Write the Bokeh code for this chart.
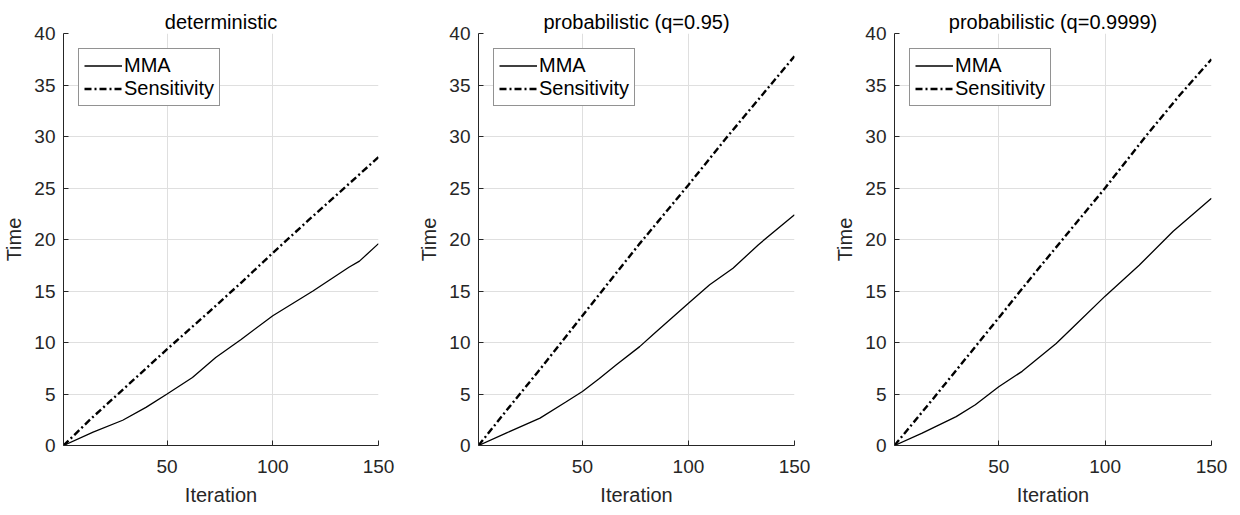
from bokeh.plotting import figure
from bokeh.layouts import row
from bokeh.models import FixedTicker, Range1d, Legend, LegendItem
from bokeh.embed import file_html
from bokeh.resources import INLINE

titles = ["deterministic", "probabilistic (q=0.95)", "probabilistic (q=0.9999)"]

mma1_x = [1, 15, 29, 40, 50, 62, 73, 85, 100, 119, 136, 141, 150]
mma1_y = [0, 1.3, 2.45, 3.7, 5.0, 6.6, 8.55, 10.3, 12.6, 15.0, 17.3, 17.9, 19.6]
sen1_x = [1, 14, 30, 50, 70, 85, 100, 117, 136, 150]
sen1_y = [0, 2.6, 5.6, 9.35, 13.0, 15.8, 18.7, 21.9, 25.4, 28.0]

mma2_x = [1, 14, 30, 42, 50, 58, 66, 77, 84, 100, 110, 121, 133, 150]
mma2_y = [0, 1.2, 2.66, 4.2, 5.25, 6.5, 7.84, 9.6, 10.9, 13.8, 15.6, 17.2, 19.5, 22.4]
sen2_x = [1, 14, 30, 50, 65, 77, 100, 118, 133, 150]
sen2_y = [0, 3.35, 7.4, 12.6, 16.5, 19.6, 25.3, 29.9, 33.6, 37.8]

mma3_x = [1, 14, 30, 39, 50, 61, 77, 86, 100, 116, 132, 150]
mma3_y = [0, 1.2, 2.8, 3.95, 5.7, 7.2, 9.9, 11.7, 14.5, 17.5, 20.8, 24.0]
sen3_x = [1, 19, 30, 50, 66, 82, 100, 119, 135, 150]
sen3_y = [0, 4.5, 7.3, 12.4, 16.5, 20.5, 25.0, 30.0, 34.0, 37.5]

x_ticks = [50, 100, 150]
y_ticks = [0, 5, 10, 15, 20, 25, 30, 35, 40]

FONT = "Liberation Sans"
TXT = "#262626"

series = [
    (mma1_x, mma1_y, sen1_x, sen1_y),
    (mma2_x, mma2_y, sen2_x, sen2_y),
    (mma3_x, mma3_y, sen3_x, sen3_y),
]
geom = [(58, 315, 35), (65, 316, 27), (73, 317, 18)]

figs = []
for i, (t, (mx, my, sx, sy), (bl, fw, br)) in enumerate(zip(titles, series, geom)):
    p = figure(frame_width=fw, frame_height=412, output_backend="svg",
               toolbar_location=None, x_range=Range1d(1, 150), y_range=Range1d(0, 40),
               min_border_left=bl, min_border_right=br, min_border_top=33,
               min_border_bottom=58, title=t)
    p.title.align = "center"
    p.title.text_font = FONT
    p.title.text_font_style = "normal"
    p.title.text_font_size = "20px"
    p.title.text_color = "#000000"
    p.title.standoff = 2
    p.outline_line_color = None
    p.background_fill_color = "white"
    p.border_fill_color = "white"

    for ax in (p.xaxis[0], p.yaxis[0]):
        ax.axis_line_color = TXT
        ax.major_tick_line_color = TXT
        ax.major_tick_in = 5
        ax.major_tick_out = 0
        ax.minor_tick_line_color = None
        ax.major_label_text_font = FONT
        ax.major_label_text_font_size = "19px"
        ax.major_label_text_color = TXT
        ax.axis_label_text_font = FONT
        ax.axis_label_text_font_size = "20px"
        ax.axis_label_text_font_style = "normal"
        ax.axis_label_text_color = TXT
    p.xaxis[0].ticker = FixedTicker(ticks=x_ticks)
    p.yaxis[0].ticker = FixedTicker(ticks=y_ticks)
    p.xaxis[0].axis_label = "Iteration"
    p.yaxis[0].axis_label = "Time"
    p.xaxis[0].major_label_standoff = 14
    p.yaxis[0].major_label_standoff = 8
    p.xaxis[0].axis_label_standoff = 8
    p.yaxis[0].axis_label_standoff = 6

    p.xgrid.grid_line_color = "#dfdfdf"
    p.ygrid.grid_line_color = "#dfdfdf"
    p.xgrid.ticker = FixedTicker(ticks=x_ticks)
    p.ygrid.ticker = FixedTicker(ticks=y_ticks)

    r1 = p.line(mx, my, line_color="black", line_width=1.3)
    r2 = p.line(sx, sy, line_color="black", line_width=2.4, line_dash="7 3 2 3")

    leg = Legend(items=[LegendItem(label="MMA", renderers=[r1]),
                        LegendItem(label="Sensitivity", renderers=[r2])],
                 location="top_left")
    leg.margin = 15
    leg.padding = 5
    leg.spacing = 0
    leg.glyph_width = 38
    leg.glyph_height = 23
    leg.label_height = 23
    leg.label_standoff = 2
    leg.label_text_font = FONT
    leg.label_text_font_size = "20px"
    leg.label_text_color = "#000000"
    leg.border_line_color = TXT
    leg.border_line_width = 1
    leg.background_fill_color = "white"
    leg.background_fill_alpha = 1
    p.add_layout(leg, "center")
    figs.append(p)

layout = row(*figs)
open("out.html", "w").write(file_html(layout, INLINE))
